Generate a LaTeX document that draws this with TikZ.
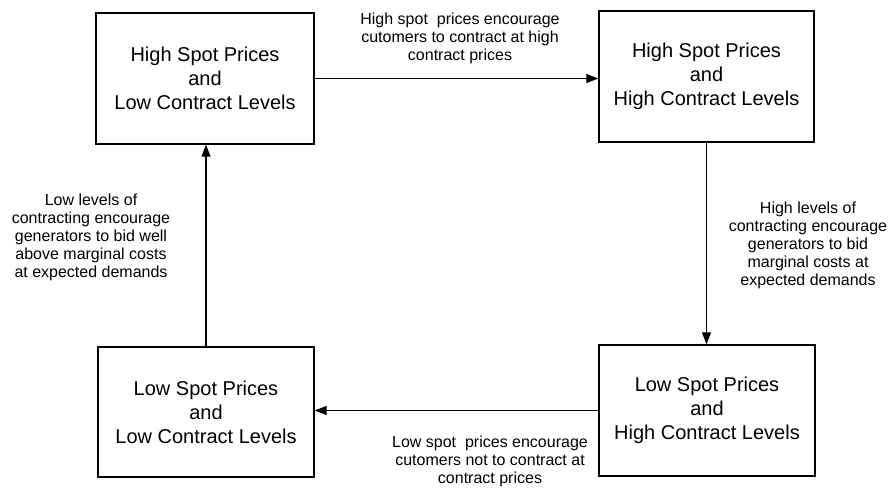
\documentclass[tikz,border=0pt]{standalone}
\usepackage{fontspec}
\setmainfont{Liberation Sans}
\usetikzlibrary{arrows.meta,calc}
\tikzset{
  statebox/.style={draw, line width=1.4pt, align=center, inner sep=0pt,
    font=\fontsize{20}{24}\selectfont},
  lbl/.style={align=center, inner sep=0pt, font=\fontsize{16}{18}\selectfont},
  arr/.style={line width=1.2pt, -{Triangle[length=12pt,width=9pt]}}
}
\begin{document}
\begin{tikzpicture}[x=1pt,y=-1pt]
\useasboundingbox (0,0) rectangle (896,492);
\node[statebox, minimum width=218pt, minimum height=131pt] (TL) at (205,78.5)
  {High Spot Prices\\and\\Low Contract Levels};
\node[statebox, minimum width=215pt, minimum height=131pt] (TR) at (706.5,76.5)
  {High Spot Prices\\and\\High Contract Levels};
\node[statebox, minimum width=216pt, minimum height=130pt] (BL) at (206,412)
  {Low Spot Prices\\and\\Low Contract Levels};
\node[statebox, minimum width=216pt, minimum height=131pt] (BR) at (707,410.5)
  {Low Spot Prices\\and\\High Contract Levels};

\draw[arr] (TL.east) -- (TL.east -| TR.west);
\draw[arr] (TR.south) -- (TR.south |- BR.north);
\draw[arr] (BR.west) -- (BR.west -| BL.east);
\draw[arr] (BL.north) -- (BL.north |- TL.south);

\node[lbl] (lt) at (460,38) {High spot~ prices encourage\\cutomers to contract at high\\contract prices};
\node[lbl] (lr) at (808,245) {High levels of\\contracting encourage\\generators to bid\\marginal costs at\\expected demands};
\node[lbl] (ll) at (91,237) {Low levels of\\contracting encourage\\generators to bid well\\above marginal costs\\at expected demands};
\node[lbl] (lb) at (490,461) {Low spot~ prices encourage\\cutomers not to contract at\\contract prices};
\end{tikzpicture}
\end{document}
